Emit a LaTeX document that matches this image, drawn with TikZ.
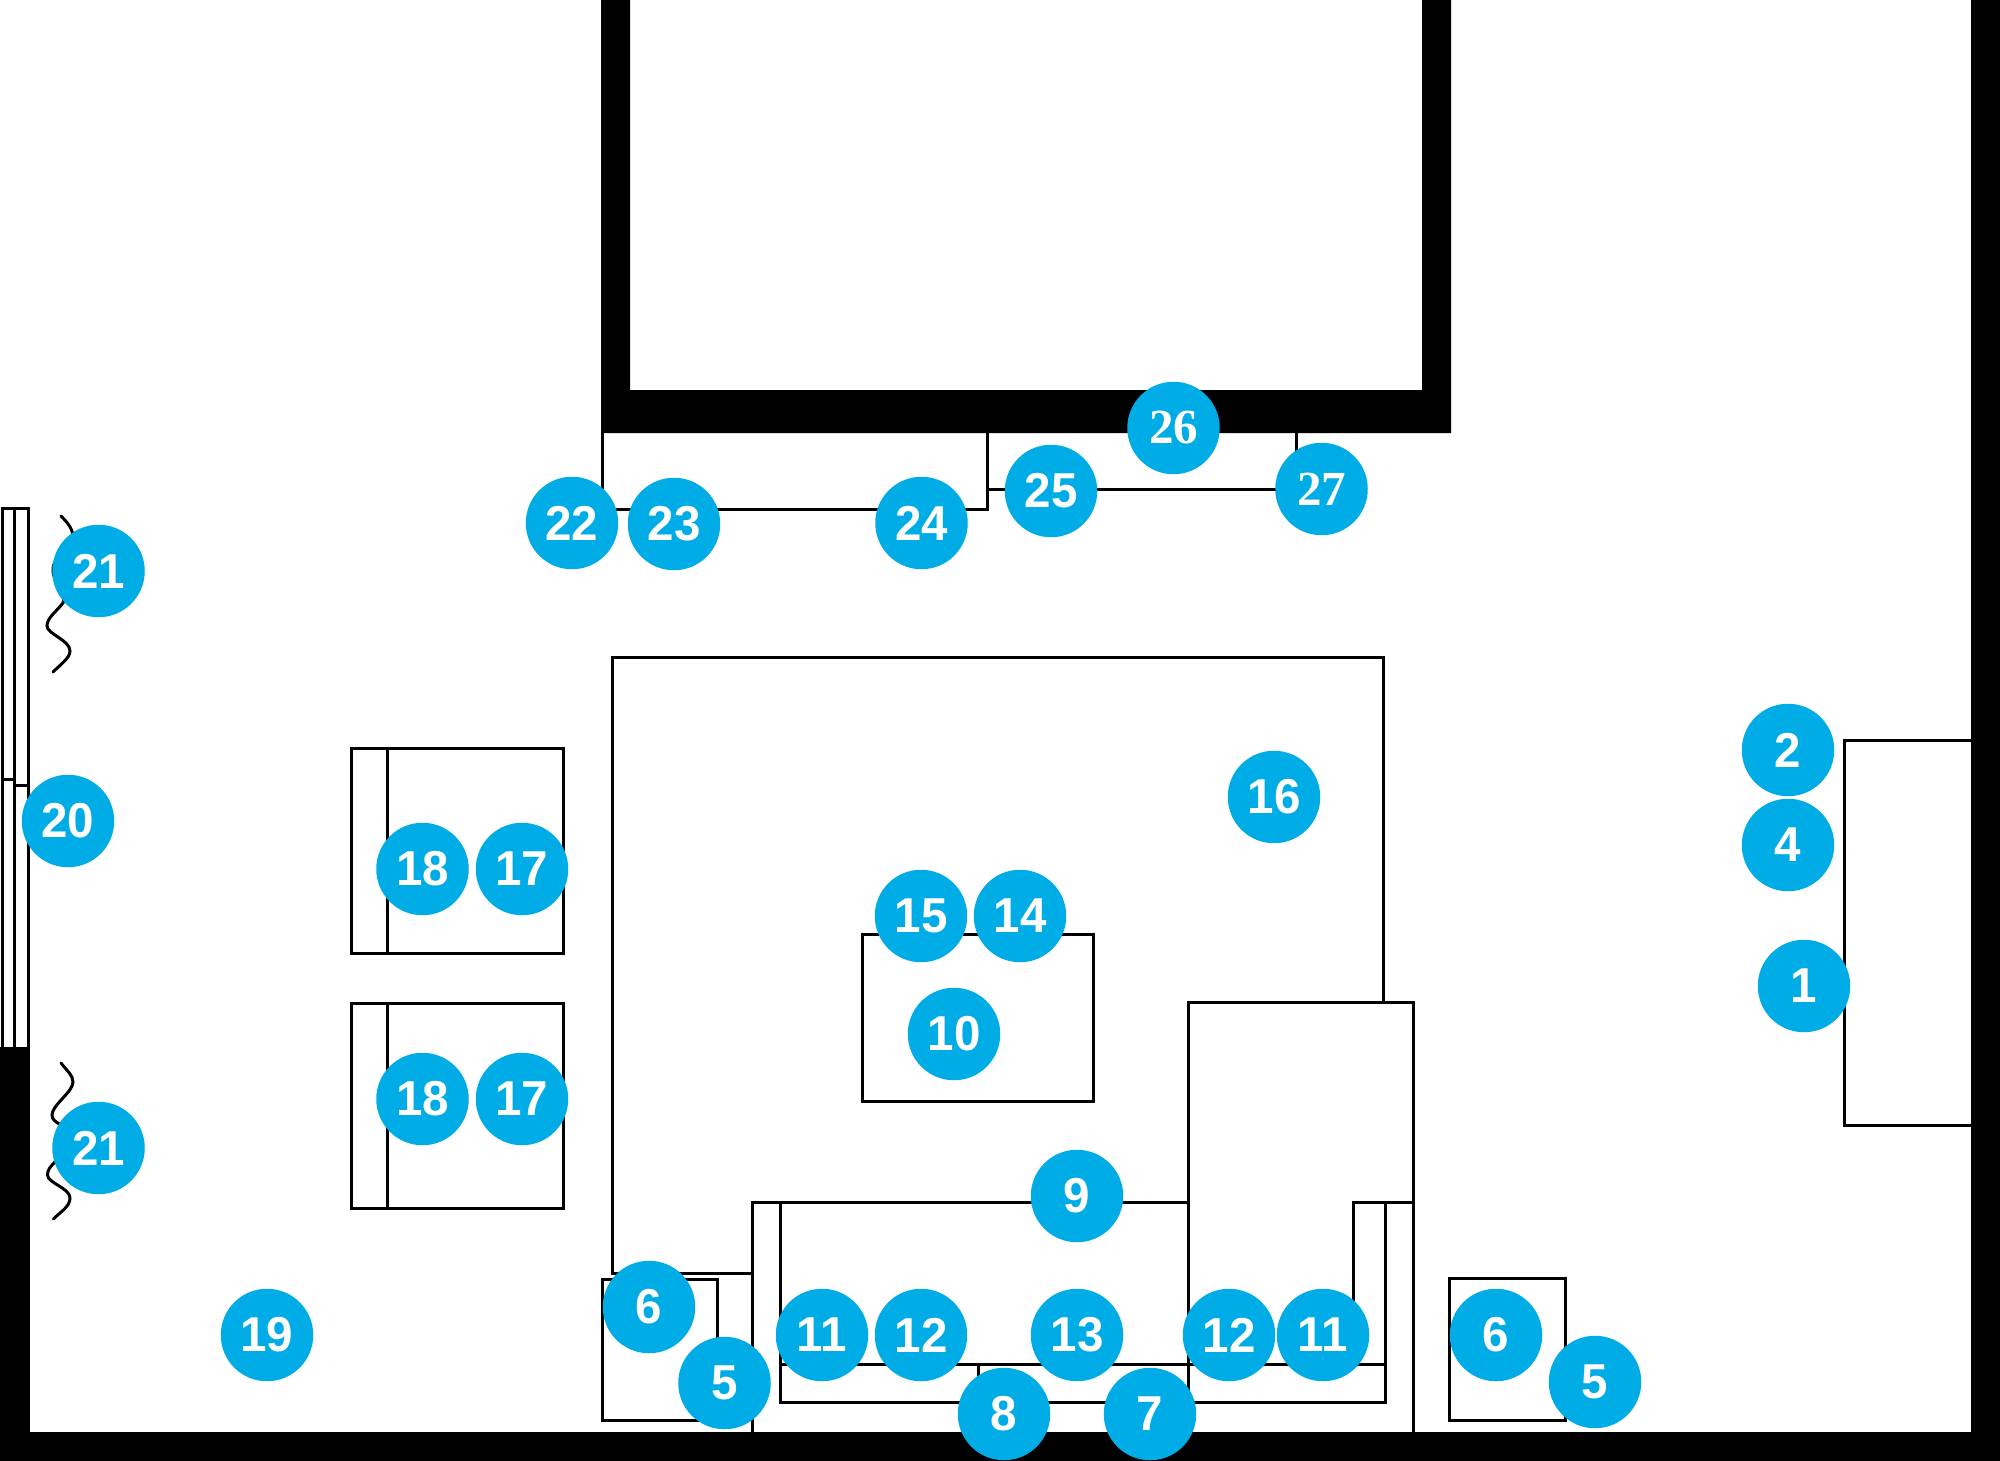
\documentclass[tikz,border=0pt]{standalone}
\usepackage{fontspec}
\setmainfont{Liberation Sans}
\newfontfamily\serifnum{Liberation Serif}
\newfontfamily\badgefont[FakeStretch=0.97]{Liberation Sans}
\definecolor{badgeblue}{HTML}{00ACE6}
\tikzset{
  wallfill/.style={fill=black,draw=none},
  plan/.style={draw=black,line width=3pt,line join=miter,line cap=rect},
  curtain/.style={draw=black,line width=3pt,line cap=round},
  badge/.style={circle,fill=badgeblue,text=white,draw=none,minimum size=92.5pt,inner sep=0pt,
    font=\fontsize{49}{49}\selectfont\badgefont\bfseries},
  badgeserif/.style={badge,font=\fontsize{49}{49}\selectfont\serifnum\bfseries}
}
\begin{document}
\begin{tikzpicture}[x=1pt,y=-1pt]
\useasboundingbox (0,0) rectangle (2000,1461);
\fill[white] (0,0) rectangle (2000,1461);
% furniture
\draw[plan] (2,1047) -- (2,508) -- (28,508) -- (28,1047);
\draw[plan] (14.5,508) -- (14.5,1047);
\draw[plan] (2,779) -- (14.5,779);
\draw[plan] (14.5,785) -- (28,785);
\draw[curtain] (61,516) .. controls (68,523) and (74,530) .. (73,540) .. controls (72,550) and (53,555) .. (53,570) .. controls (53,585) and (68,590) .. (63,603) .. controls (55,613) and (47,618) .. (47,626) .. controls (47,634) and (70,640) .. (70,651) .. controls (70,658) and (60,665) .. (53,672);
\draw[curtain] (61,1063) .. controls (67,1071) and (73,1075) .. (73,1082) .. controls (73,1092) and (52,1105) .. (52,1115) .. controls (52,1120) and (56,1122) .. (61,1125) .. controls (70,1133) and (65,1150) .. (54,1163) .. controls (50,1167) and (47.5,1170) .. (47.5,1175) .. controls (47.5,1183) and (70,1188) .. (70,1198) .. controls (70,1207) and (60,1212) .. (53.5,1219);
\draw[plan] (351,748) rectangle (563,953);
\draw[plan] (387.5,748) -- (387.5,953);
\draw[plan] (351,1003) rectangle (563,1208);
\draw[plan] (387.5,1003) -- (387.5,1208);
\draw[plan] (752,1273) -- (612,1273) -- (612,657) -- (1383,657) -- (1383,1002);
\draw[plan] (862,934) rectangle (1093,1101);
\draw[plan] (1188,1402) -- (1188,1002.5) -- (1413,1002.5) -- (1413,1432);
\draw[plan] (752,1432) -- (752,1202) -- (1188,1202);
\draw[plan] (780,1202) -- (780,1402) -- (1385,1402) -- (1385,1202);
\draw[plan] (780,1364) -- (1385,1364);
\draw[plan] (978,1364) -- (978,1402);
\draw[plan] (1353,1364) -- (1353,1202) -- (1413,1202);
\draw[plan] (602,1279) rectangle (717,1420);
\draw[plan] (1449.5,1278) rectangle (1565,1420);
\draw[plan] (1971,740) -- (1844,740) -- (1844,1125) -- (1971,1125);
\draw[plan] (602,433) -- (602,509) -- (987,509) -- (987,433);
\draw[plan] (987,489) -- (1296,489) -- (1296,433);
% walls
\path[wallfill] (601,0) -- (630,0) -- (630,390) -- (1422,390) -- (1422,0) -- (1451,0) -- (1451,433) -- (601,433) -- cycle;
\path[wallfill] (1971,0) rectangle (2000,1461);
\path[wallfill] (0,1431.5) rectangle (2000,1461);
\path[wallfill] (0,1047) rectangle (29.5,1461);
% badges
\node[badge] (n1) at (1804,986) {1};
\node[badge] (n2) at (1788,750) {2};
\node[badge] (n4) at (1788,845) {4};
\node[badge] (n5a) at (724.5,1383) {5};
\node[badge] (n5b) at (1595,1382) {5};
\node[badge] (n6a) at (649,1307) {6};
\node[badge] (n6b) at (1496,1335) {6};
\node[badge] (n7) at (1150,1414) {7};
\node[badge] (n8) at (1004,1414) {8};
\node[badge] (n9) at (1077,1196) {9};
\node[badge] (n10) at (954,1034) {10};
\node[badge] (n11a) at (822,1335) {11};
\node[badge] (n12a) at (921,1335) {12};
\node[badge] (n13) at (1077,1335) {13};
\node[badge] (n12b) at (1229,1335) {12};
\node[badge] (n11b) at (1323,1335) {11};
\node[badge] (n14) at (1020,916) {14};
\node[badge] (n15) at (921,916) {15};
\node[badge] (n16) at (1274,797) {16};
\node[badge] (n17a) at (522,869) {17};
\node[badge] (n18a) at (422.5,869) {18};
\node[badge] (n17b) at (522,1099) {17};
\node[badge] (n18b) at (422.5,1099) {18};
\node[badge] (n19) at (267,1335) {19};
\node[badge] (n20) at (68,821) {20};
\node[badge] (n21a) at (98.5,571) {21};
\node[badge] (n21b) at (98.5,1148) {21};
\node[badge] (n22) at (572,523) {22};
\node[badge] (n23) at (674,524) {23};
\node[badge] (n24) at (921.5,523) {24};
\node[badge] (n25) at (1051,491) {25};
\node[badgeserif] (n26) at (1173.5,428) {26};
\node[badgeserif] (n27) at (1321.5,489) {27};
\end{tikzpicture}
\end{document}
